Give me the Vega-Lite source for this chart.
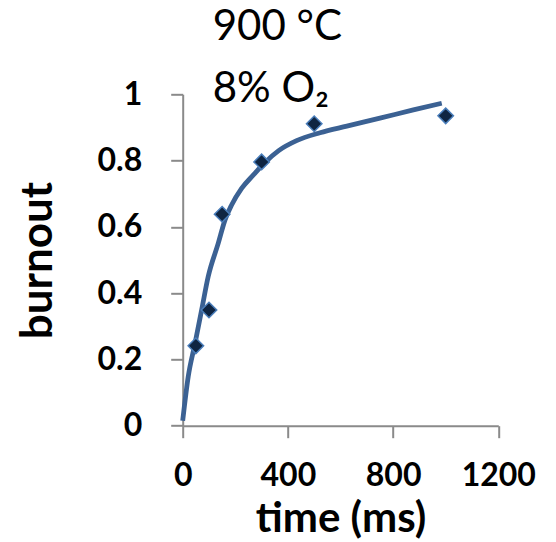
{
  "$schema": "https://vega.github.io/schema/vega-lite/v6.json",
  "autosize": {"type": "none"},
  "width": 315.6,
  "height": 331.4,
  "padding": {"left": 182.7, "top": 94.3, "right": 57.7, "bottom": 116.3},
  "background": "white",
  "title": {
    "text": ["900 °C", "8% O₂"],
    "font": "Lato",
    "fontSize": 42,
    "fontWeight": "normal",
    "color": "#000000",
    "anchor": "start",
    "frame": "group",
    "dx": 30,
    "dy": 55,
    "baseline": "alphabetic",
    "offset": -11,
    "lineHeight": 62
  },
  "config": {
    "view": {"stroke": null},
    "axis": {
      "grid": false,
      "domainColor": "#8a8a8a",
      "domainWidth": 2,
      "tickColor": "#8a8a8a",
      "tickWidth": 2,
      "tickSize": 12,
      "labelFont": "Lato",
      "labelFontSize": 32,
      "labelFontWeight": "bold",
      "labelColor": "#000000",
      "titleFont": "Lato",
      "titleFontSize": 44,
      "titleFontWeight": "bold",
      "titleColor": "#000000"
    }
  },
  "datasets": {
    "curve": [
      {"time": 0, "burnout": 0.015},
      {"time": 21, "burnout": 0.148},
      {"time": 47, "burnout": 0.249},
      {"time": 72, "burnout": 0.349},
      {"time": 97, "burnout": 0.45},
      {"time": 135, "burnout": 0.55},
      {"time": 161, "burnout": 0.621},
      {"time": 186, "burnout": 0.666},
      {"time": 224, "burnout": 0.716},
      {"time": 268, "burnout": 0.756},
      {"time": 310, "burnout": 0.792},
      {"time": 365, "burnout": 0.83},
      {"time": 433, "burnout": 0.86},
      {"time": 522, "burnout": 0.884},
      {"time": 624, "burnout": 0.904},
      {"time": 750, "burnout": 0.928},
      {"time": 877, "burnout": 0.953},
      {"time": 985, "burnout": 0.973}
    ],
    "points": [
      {"time": 50, "burnout": 0.241},
      {"time": 100, "burnout": 0.349},
      {"time": 150, "burnout": 0.638},
      {"time": 300, "burnout": 0.796},
      {"time": 500, "burnout": 0.911},
      {"time": 1000, "burnout": 0.935}
    ]
  },
  "layer": [
    {
      "data": {"name": "curve"},
      "mark": {"type": "line", "interpolate": "monotone", "color": "#3b6193", "strokeWidth": 4.8, "strokeCap": "butt"},
      "encoding": {
        "x": {
          "field": "time", "type": "quantitative",
          "scale": {"domain": [0, 1200], "nice": false},
          "axis": {"values": [0, 400, 800, 1200], "format": "d", "title": "time (ms)", "titleFontSize": 42, "labelPadding": 23, "titlePadding": 7, "labelFlush": false, "labelOverlap": false}
        },
        "y": {
          "field": "burnout", "type": "quantitative",
          "scale": {"domain": [0, 1], "nice": false},
          "axis": {"values": [0, 0.2, 0.4, 0.6, 0.8, 1], "format": "~g", "title": "burnout", "labelPadding": 29, "titlePadding": 36}
        }
      }
    },
    {
      "data": {"name": "points"},
      "mark": {"type": "point", "shape": "diamond", "filled": true, "fill": "#0f2542", "stroke": "#4a7ebb", "strokeWidth": 1.5, "size": 240, "opacity": 1},
      "encoding": {
        "x": {"field": "time", "type": "quantitative"},
        "y": {"field": "burnout", "type": "quantitative"}
      }
    }
  ]
}
